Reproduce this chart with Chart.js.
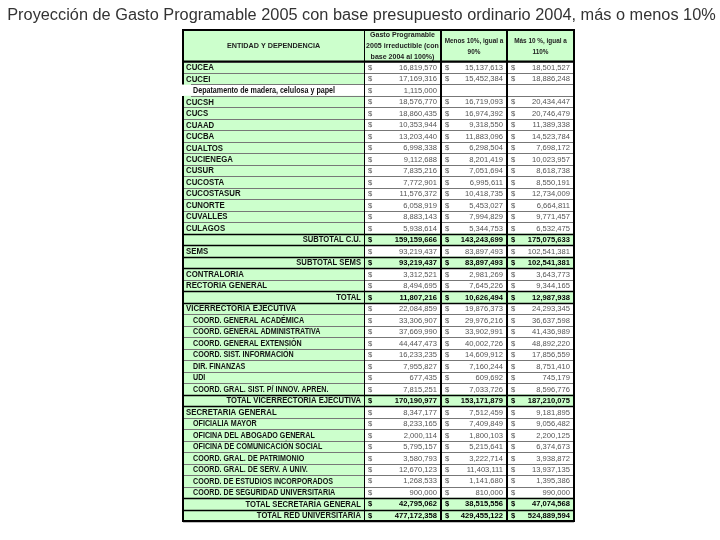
<!DOCTYPE html>
<html><head><meta charset="utf-8">
<script src="https://cdn.jsdelivr.net/npm/chart.js@4"></script>
<style>html,body{margin:0;padding:0;background:#fff}</style>
</head><body>
<canvas id="c" width="720" height="540"></canvas>
<script>
const chartTitle = "Proyección de Gasto Programable 2005 con base presupuesto ordinario 2004, más o menos 10%";
const headers = ["ENTIDAD Y DEPENDENCIA", ["Gasto Programable","2005 irreductible (con","base 2004 al 100%)"], ["Menos 10%, igual a","90%"], ["Más 10 %, igual a","110%"]];
const rowNames = ["CUCEA","CUCEI","Depatamento de madera, celulosa y papel","CUCSH","CUCS","CUAAD","CUCBA","CUALTOS","CUCIENEGA","CUSUR","CUCOSTA","CUCOSTASUR","CUNORTE","CUVALLES","CULAGOS","SUBTOTAL C.U.","SEMS","SUBTOTAL SEMS","CONTRALORIA","RECTORIA GENERAL","TOTAL","VICERRECTORIA EJECUTIVA","COORD. GENERAL ACADÉMICA","COORD. GENERAL ADMINISTRATIVA","COORD. GENERAL EXTENSIÓN","COORD. SIST. INFORMACIÓN","DIR. FINANZAS","UDI","COORD. GRAL. SIST. P/ INNOV. APREN.","TOTAL VICERRECTORÍA EJECUTIVA","SECRETARIA GENERAL","OFICIALIA MAYOR","OFICINA DEL ABOGADO GENERAL","OFICINA DE COMUNICACIÓN SOCIAL","COORD. GRAL. DE PATRIMONIO","COORD. GRAL. DE SERV. A UNIV.","COORD. DE ESTUDIOS INCORPORADOS","COORD. DE SEGURIDAD UNIVERSITARIA","TOTAL SECRETARÍA GENERAL","TOTAL RED UNIVERSITARIA"];
const rowKinds = ["main","main","dept","main","main","main","main","main","main","main","main","main","main","main","main","total","main","total","main","main","total","main","sub","sub","sub","sub","sub","sub","sub","total","main","sub","sub","sub","sub","sub","sub","sub","total","total"];
const gasto2005 = [16819570,17169316,1115000,18576770,18860435,10353944,13203440,6998338,9112688,7835216,7772901,11576372,6058919,8883143,5938614,159159666,93219437,93219437,3312521,8494695,11807216,22084859,33306907,37669990,44447473,16233235,7955827,677435,7815251,170190977,8347177,8233165,2000114,5795157,3580793,12670123,1268533,900000,42795062,477172358];
const menos10 = [15137613,15452384,null,16719093,16974392,9318550,11883096,6298504,8201419,7051694,6995611,10418735,5453027,7994829,5344753,143243699,83897493,83897493,2981269,7645226,10626494,19876373,29976216,33902991,40002726,14609912,7160244,609692,7033726,153171879,7512459,7409849,1800103,5215641,3222714,11403111,1141680,810000,38515556,429455122];
const mas10 = [18501527,18886248,null,20434447,20746479,11389338,14523784,7698172,10023957,8618738,8550191,12734009,6664811,9771457,6532475,175075633,102541381,102541381,3643773,9344165,12987938,24293345,36637598,41436989,48892220,17856559,8751410,745179,8596776,187210075,9181895,9056482,2200125,6374673,3938872,13937135,1395386,990000,47074568,524889594];
const valueCols = [gasto2005, menos10, mas10];

// layout (pixel units of x scale)
const COLS = [0,181,258,324,391];
const GREEN = '#ccffcc';
const HEADER_TOP = 30;

function txt(ctx, s, x, y, align, sx){
  ctx.save(); ctx.translate(x,y); ctx.scale(sx,1); ctx.textAlign=align; ctx.fillText(s,0,0); ctx.restore();
}
const fmt = v => v.toLocaleString('en-US');
const F = '"Liberation Sans", Arial, sans-serif';

const tablePlugin = {
  id:'tablePlugin',
  beforeDraw(chart){
    const ctx=chart.ctx;
    ctx.save(); ctx.fillStyle='#fff'; ctx.fillRect(0,0,chart.width,chart.height);
    ctx.fillStyle='#333'; ctx.font='16px '+F;
    ctx.textBaseline='alphabetic';
    txt(ctx, chartTitle, 361.5, 20, 'center', 1.02);
    const xs=chart.scales.x, a=chart.chartArea;
    ctx.fillStyle=GREEN;
    ctx.fillRect(xs.getPixelForValue(COLS[0]), HEADER_TOP, xs.getPixelForValue(COLS[4])-xs.getPixelForValue(COLS[0]), a.top-HEADER_TOP);
    ctx.restore();
  },
  afterDatasetsDraw(chart){
    const ctx=chart.ctx, xs=chart.scales.x, ys=chart.scales.y, a=chart.chartArea;
    const n=rowNames.length, rh=(a.bottom-a.top)/n;
    const X=COLS.map(c=>xs.getPixelForValue(c));
    ctx.save();
    ctx.textBaseline='middle';
    ctx.fillStyle='#222'; ctx.font='bold 8px '+F;
    const hMid=(HEADER_TOP+a.top)/2;
    txt(ctx, headers[0], (X[0]+X[1])/2, hMid, 'center', 0.9);
    for(let c=1;c<4;c++){
      const lines=headers[c], lh=11;
      const y0=hMid+(c>1?1:0)-(lines.length-1)*lh/2;
      lines.forEach((l,k)=>txt(ctx,l,(X[c]+X[c+1])/2,y0+k*lh,'center',c>1?0.8:0.88));
    }
    for(let i=0;i<n;i++){
      const y=ys.getPixelForValue(i)+0.5;
      const k=rowKinds[i];
      ctx.fillStyle='#111'; ctx.font='bold 8.5px '+F;
      if(k==='total') txt(ctx,rowNames[i],X[1]-3,y,'right',0.9);
      else if(k==='main') txt(ctx,rowNames[i],X[0]+3,y,'left',0.92);
      else txt(ctx,rowNames[i],X[0]+10,y,'left',0.84);
      for(let c=0;c<3;c++){
        const v=valueCols[c][i];
        if(v==null) continue;
        if(k==='total'){ctx.fillStyle='#000'; ctx.font='bold 8px '+F;}
        else {ctx.fillStyle='#555'; ctx.font='8px '+F;}
        txt(ctx,'$',X[c+1]+4,y,'left',0.95);
        txt(ctx,fmt(v),X[c+2]-4,y,'right',0.95);
      }
    }
    for(let i=0;i<=n;i++){
      const y=Math.round(a.top+i*rh)+0.5;
      const heavy = (i<n && rowKinds[i]==='total') || (i>0 && rowKinds[i-1]==='total');
      ctx.strokeStyle=heavy?'#000':'#777'; ctx.lineWidth=heavy?1.5:1;
      const skipLeft = (i<n && rowKinds[i]==='dept') || (i>0 && rowKinds[i-1]==='dept');
      ctx.beginPath(); ctx.moveTo(skipLeft?X[0]+8:X[0],y); ctx.lineTo(X[4],y); ctx.stroke();
    }
    ctx.strokeStyle='#000';
    ctx.lineWidth=1; ctx.beginPath(); ctx.moveTo(X[1]+0.5,HEADER_TOP); ctx.lineTo(X[1]+0.5,a.bottom); ctx.stroke();
    ctx.lineWidth=2;
    [X[2],X[3]].forEach(x=>{ctx.beginPath(); ctx.moveTo(x,HEADER_TOP); ctx.lineTo(x,a.bottom); ctx.stroke();});
    ctx.beginPath(); ctx.moveTo(X[0],a.top); ctx.lineTo(X[4],a.top); ctx.stroke();
    const di=rowKinds.indexOf('dept');
    const dTop=a.top+di*rh, dBot=dTop+rh;
    ctx.beginPath();
    ctx.moveTo(X[0],dTop); ctx.lineTo(X[0],HEADER_TOP); ctx.lineTo(X[4],HEADER_TOP); ctx.lineTo(X[4],a.bottom); ctx.lineTo(X[0],a.bottom); ctx.lineTo(X[0],dBot);
    ctx.stroke();
    ctx.restore();
  }
};

new Chart(document.getElementById('c'), {
  type:'bar',
  data:{
    labels: rowNames,
    datasets:[
      {label:'nombre', data: rowKinds.map(k=> k==='dept'?null:[COLS[0],COLS[1]]), backgroundColor:GREEN, grouped:false, barPercentage:1, categoryPercentage:1, borderWidth:0},
      {label:'total', data: rowKinds.map(k=> k==='total'?[COLS[1],COLS[4]]:null), backgroundColor:GREEN, grouped:false, barPercentage:1, categoryPercentage:1, borderWidth:0}
    ]
  },
  options:{
    indexAxis:'y', responsive:false, animation:false,
    layout:{padding:{left:183, right:146, top:61.5, bottom:19}},
    scales:{
      x:{type:'linear', min:COLS[0], max:COLS[4], display:false},
      y:{type:'category', display:false, offset:true}
    },
    plugins:{legend:{display:false}, tooltip:{enabled:false}, title:{display:false}}
  },
  plugins:[tablePlugin]
});
</script>
</body></html>
